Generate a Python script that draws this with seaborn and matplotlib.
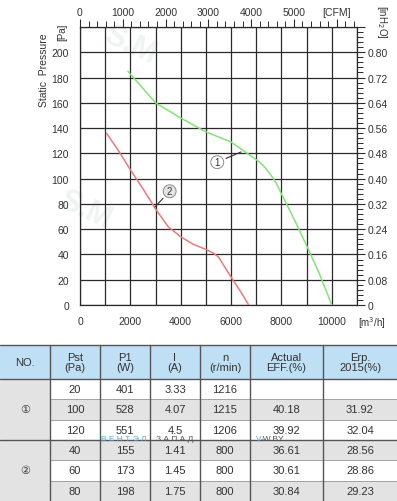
import matplotlib
matplotlib.use("Agg")
import matplotlib.pyplot as plt
import seaborn as sns
import pandas as pd
from matplotlib.patches import Rectangle
from matplotlib.ticker import MultipleLocator

# curve 1 (green) and curve 2 (red): air flow [m3/h] vs static pressure [Pa]
flow_1 = [1900, 3000, 4000, 5000, 6000, 6500, 7000, 7250, 7500, 7750, 8000, 8500, 9000, 9500, 10000]
pst_1 = [185, 160, 148, 137, 129, 122, 115, 111, 105, 98, 88, 68, 47, 25, 0]
flow_2 = [1050, 1500, 2000, 2500, 3000, 3500, 4000, 4500, 5000, 5300, 5500, 6000, 6400, 6700]
pst_2 = [136, 123, 107, 92, 76, 62, 54, 48, 44, 41, 38, 22, 10, 0]

# table
headers = ["NO.", "Pst\n(Pa)", "P1\n(W)", "I\n(A)", "n\n(r/min)", "Actual\nEFF.(%)", "Erp.\n2015(%)"]
group_labels = ["①", "②"]
pst = ["20", "100", "120", "40", "60", "80"]
p1 = ["401", "528", "551", "155", "173", "198"]
current = ["3.33", "4.07", "4.5", "1.41", "1.45", "1.75"]
speed = ["1216", "1215", "1206", "800", "800", "800"]
eff = ["", "40.18", "39.92", "36.61", "30.61", "30.84"]
erp = ["", "31.92", "32.04", "28.56", "28.86", "29.23"]

sns.set_style("white")
plt.rcParams["font.family"] = ["Liberation Sans", "DejaVu Sans"]

W, H = 397, 502
fig = plt.figure(figsize=(W / 100, H / 100), dpi=100)

# pixel-coordinate overlay for texts and the table
ov = fig.add_axes([0, 0, 1, 1])
ov.set_xlim(0, W)
ov.set_ylim(H, 0)
ov.axis("off")

ax = fig.add_axes([80 / W, (H - 306) / H, 277 / W, 278 / H])
ax.set_facecolor("none")

df = pd.concat([
    pd.DataFrame({"flow": flow_1, "pst": pst_1, "fan": "1"}),
    pd.DataFrame({"flow": flow_2, "pst": pst_2, "fan": "2"}),
])
sns.lineplot(data=df, x="flow", y="pst", hue="fan", palette={"1": "#86e27a", "2": "#e97b7e"},
             legend=False, linewidth=1.1, ax=ax, zorder=3)

ax.set_xlim(0, 11000)
ax.set_ylim(0, 220)
ax.set_xlabel("")
ax.set_ylabel("")

dark = "#2a2a2a"
lab = "#333333"
xt = list(range(0, 12000, 1000))
ax.set_xticks(xt)
ax.set_xticklabels([str(v) if v % 2000 == 0 and v <= 10000 else "" for v in xt])
ax.xaxis.set_minor_locator(MultipleLocator(200))
yt = list(range(0, 240, 20))
ax.set_yticks(yt)
ax.set_yticklabels([str(v) if v <= 200 else "" for v in yt])
ax.yaxis.set_minor_locator(MultipleLocator(4))
ax.grid(True, which="major", color=dark, linewidth=0.9)
for s in ax.spines.values():
    s.set_color(dark)
    s.set_linewidth(0.9)
ax.tick_params(which="major", direction="out", length=6, width=0.8, color=dark,
               labelsize=7.5, labelcolor=lab, pad=2)
ax.tick_params(which="minor", direction="out", length=4, width=0.7, color=dark)

# top axis in CFM
cfm = ax.secondary_xaxis("top", functions=(lambda x: x / 1.699, lambda c: c * 1.699))
cfm.set_xticks(list(range(0, 7000, 1000)))
cfm.set_xticklabels(["0", "1000", "2000", "3000", "4000", "5000", "[CFM]"])
cfm.xaxis.set_minor_locator(MultipleLocator(200))
cfm.tick_params(which="major", direction="out", length=6, width=0.8, color=dark,
                labelsize=7.5, labelcolor=lab, pad=1)
cfm.tick_params(which="minor", direction="out", length=4, width=0.7, color=dark)
cfm.spines["top"].set_visible(False)

# right axis in inH2O
inh = ax.secondary_yaxis("right", functions=(lambda p: p * 0.004, lambda v: v / 0.004))
rt = [round(0.08 * i, 2) for i in range(12)]
inh.set_yticks(rt)
inh.set_yticklabels(["0"] + [f"{v:.2f}" for v in rt[1:11]] + [""])
inh.yaxis.set_minor_locator(MultipleLocator(0.016))
inh.tick_params(which="major", direction="out", length=6, width=0.8, color=dark,
                labelsize=7.5, labelcolor=lab, pad=2)
inh.tick_params(which="minor", direction="out", length=4, width=0.7, color=dark)
inh.spines["right"].set_visible(False)

# curve markers
ax.annotate("1", xy=(6500, 122), xytext=(5450, 113), fontsize=7, ha="center", va="center",
            color=lab,
            bbox=dict(boxstyle="circle,pad=0.15", fc="white", ec="#8a8a8a", lw=0.7),
            arrowprops=dict(arrowstyle="-", color=lab, lw=0.8), zorder=5)
ax.annotate("2", xy=(2900, 76), xytext=(3560, 90), fontsize=7, ha="center", va="center",
            color=lab,
            bbox=dict(boxstyle="circle,pad=0.15", fc="#e4e4e4", ec="#8a8a8a", lw=0.7),
            arrowprops=dict(arrowstyle="-", color=lab, lw=0.8), zorder=5)

# axis titles
ov.text(44, 70, "Static  Pressure", rotation=90, ha="center", va="center", fontsize=7.5, color=lab)
ov.text(62, 32, "[Pa]", rotation=90, ha="center", va="center", fontsize=7, color=lab)
ov.text(382, 22, "[inH$_2$O]", rotation=270, ha="center", va="center", fontsize=7, color=lab)
ov.text(372, 323, "[m$^3$/h]", ha="center", va="center", fontsize=7, color=lab)

# faint watermarks
ov.text(130, 45, "S.M", rotation=-25, ha="center", va="center", fontsize=22, fontweight="bold",
        color="#eef4f2", zorder=0)
ov.text(85, 210, "S.M", rotation=-25, ha="center", va="center", fontsize=22, fontweight="bold",
        color="#eef4f2", zorder=0)

# table
col_x = [0, 50, 100, 150, 200, 250, 323, 397]
head_top, head_bot = 346, 380
row_h = (H - head_bot) / 6
gray, blue, white = "#e3e3e3", "#bfdff4", "#ffffff"
line_c = "#555555"

for i in range(7):
    ov.add_patch(Rectangle((col_x[i], head_top), col_x[i + 1] - col_x[i], head_bot - head_top,
                           fc=blue, ec="none"))
    ov.text((col_x[i] + col_x[i + 1]) / 2, (head_top + head_bot) / 2, headers[i],
            ha="center", va="center", fontsize=8, color=lab, linespacing=1.0)

columns = [pst, p1, current, speed, eff, erp]
for r in range(6):
    y0 = head_bot + r * row_h
    fill = white if r % 2 == 0 else gray
    for c, values in enumerate(columns):
        x0, x1 = col_x[c + 1], col_x[c + 2]
        ov.add_patch(Rectangle((x0, y0), x1 - x0, row_h, fc=fill, ec="#9c9c9c", lw=0.6))
        ov.text((x0 + x1) / 2, y0 + row_h / 2, values[r], ha="center", va="center",
                fontsize=8, color=lab)

for g in range(2):
    y0 = head_bot + g * 3 * row_h
    ov.add_patch(Rectangle((col_x[0], y0), col_x[1] - col_x[0], 3 * row_h, fc=gray, ec="none"))
    ov.text(col_x[1] / 2, y0 + 1.5 * row_h, group_labels[g], ha="center", va="center",
            fontsize=8, color=lab, family=["DejaVu Sans"])

for x in col_x[1:-1]:
    ov.plot([x, x], [head_top, H], color=line_c, lw=1.0)
for y in [head_top, head_bot, head_bot + 3 * row_h]:
    ov.plot([0, W], [y, y], color=line_c, lw=1.0)

# watermark across the table, along the group separator
wy = head_bot + 3 * row_h - 1
ov.text(101, wy, "В Е Н Т Э Л", ha="left", va="center", fontsize=6, color="#5aa9e0", zorder=4)
ov.text(156, wy, "З А П А Д", ha="left", va="center", fontsize=6, color="#555555", zorder=4)
ov.text(256, wy, "V", ha="left", va="center", fontsize=6, color="#5aa9e0", zorder=4)
ov.text(261, wy, "-W.BY", ha="left", va="center", fontsize=6, color="#555555", zorder=4)

fig.savefig("out.png", dpi=100)
